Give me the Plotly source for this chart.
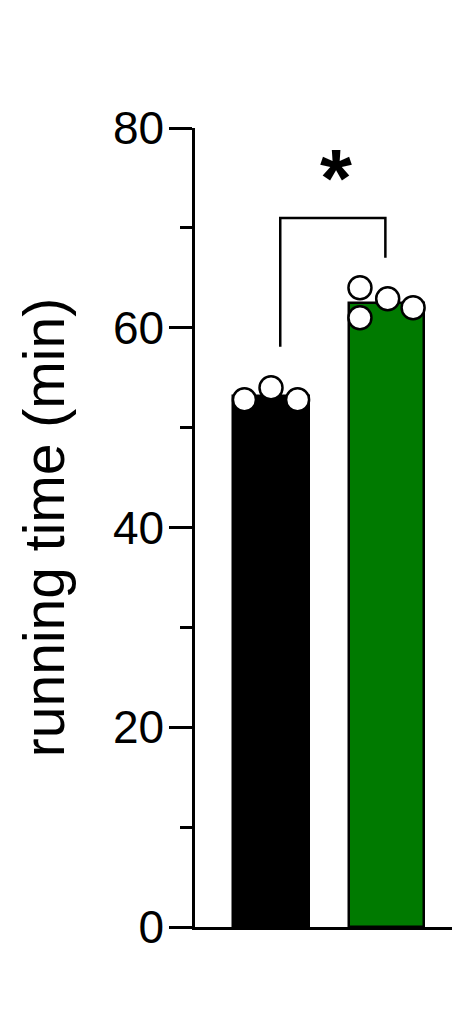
import numpy as np
import plotly.graph_objects as go

# groups and individual values (min)
groups = ["ctrl", "treated"]
bar_colors = ["#000000", "#007a00"]
ctrl_vals = [52.8, 54.0, 52.8]
treated_vals = [64.0, 62.9, 62.0, 61.0]
ctrl_jitter = [-0.23, 0.0, 0.23]
treated_jitter = [-0.23, 0.01, 0.23, -0.23]

y_ticks = [0, 20, 40, 60, 80]
y_title = "running time (min)"

# significance bracket: x left/right, y left foot, top, right foot
sig_x = [0.08, 0.99]
sig_y = [58.1, 71.0, 67.0]
sig_label = "<b>*</b>"
sig_label_x = 0.565
sig_label_y = 75.0

vals = [ctrl_vals, treated_vals]
jitters = [ctrl_jitter, treated_jitter]
means = [np.mean(v) for v in vals]
sems = [np.std(v, ddof=1) / np.sqrt(len(v)) for v in vals]

fig = go.Figure()

fig.add_trace(go.Bar(
    x=[0, 1], y=means, width=0.655,
    marker=dict(color=bar_colors, line=dict(color="black", width=2.5)),
    error_y=dict(type="data", array=sems, arrayminus=[0, 0], symmetric=False,
                 color="black", thickness=2.5, width=11),
    showlegend=False))

for i, (v, j) in enumerate(zip(vals, jitters)):
    fig.add_trace(go.Scatter(
        x=[i + d for d in j], y=v, mode="markers",
        marker=dict(size=23, color="white", line=dict(color="black", width=2.5)),
        showlegend=False, cliponaxis=False))

# bracket
fig.add_trace(go.Scatter(
    x=[sig_x[0], sig_x[0], sig_x[1], sig_x[1]],
    y=[sig_y[0], sig_y[1], sig_y[1], sig_y[2]],
    mode="lines", line=dict(color="black", width=2.5),
    showlegend=False, hoverinfo="skip"))

fig.add_annotation(x=sig_label_x, y=sig_label_y, text=sig_label,
                   showarrow=False, yanchor="middle",
                   font=dict(size=82, color="black", family="Liberation Sans"))

# page body keeps an 8px margin, so the figure is 8px smaller
fig.update_layout(
    width=452, height=1020,
    margin=dict(l=187, r=0, t=120, b=101),
    paper_bgcolor="white", plot_bgcolor="white",
    font=dict(family="Liberation Sans, Arial", color="black"),
    bargap=0,
    xaxis=dict(range=[-0.658, 1.636], showline=True, linecolor="black", linewidth=2.5,
               showticklabels=False, ticks="", showgrid=False, zeroline=False),
    yaxis=dict(range=[0, 80], showline=True, linecolor="black", linewidth=2.5,
               tickvals=y_ticks, ticks="outside", ticklen=23, tickwidth=2.5,
               tickcolor="black", tickfont=dict(size=46), ticklabelstandoff=-4,
               minor=dict(dtick=10, ticks="outside", ticklen=12, tickwidth=2.5,
                          tickcolor="black", showgrid=False),
               showgrid=False, zeroline=False,
               title=dict(text=y_title, font=dict(size=57), standoff=30)),
)

fig.write_html("out.html")
